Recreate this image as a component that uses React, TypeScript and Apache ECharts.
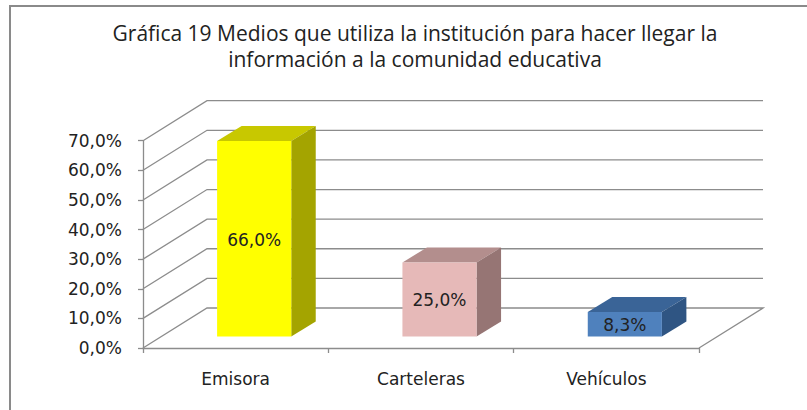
import React, { useEffect, useRef } from "react";
import * as echarts from "echarts";

const titleLines = [
  "Gráfica 19 Medios que utiliza la institución para hacer llegar la",
  "información a la comunidad educativa",
];
const categories = ["Emisora", "Carteleras", "Vehículos"];
const values = [66.0, 25.0, 8.3];
const yTicks = [0, 10, 20, 30, 40, 50, 60, 70];

const frontColors = ["#FFFF00", "#E6B9B8", "#4F81BD"];
const topColors = ["#C8C800", "#B38E8D", "#3A6497"];
const sideColors = ["#A4A400", "#967574", "#2F5583"];

// perspective offsets (styling)
const WALL_DX = 64;
const WALL_DY = -40;
const BAR_FX = 18.5;
const BAR_FY = -11.5;
const BAR_SX = 24.5;
const BAR_SY = -15;
const GRID_COLOR = "#8c8c8c";
const TEXT_COLOR = "#222222";
const LABEL_FONT = "DejaVu Sans";

const fmt = (v: number) => v.toFixed(1).replace(".", ",") + "%";

export default function App() {
  const ref = useRef<HTMLDivElement>(null);
  useEffect(() => {
    if (!ref.current) return;
    const chart = echarts.init(ref.current, undefined, { renderer: "svg" });
    const option: any = {
      animation: false,
      backgroundColor: "#ffffff",
      title: {
        text: titleLines.join("\n"),
        left: 415,
        top: 20,
        padding: 0,
        textAlign: "center",
        textStyle: {
          fontFamily: "Open Sans",
          fontSize: 21,
          fontWeight: "normal",
          color: TEXT_COLOR,
          lineHeight: 26,
        },
      },
      graphic: [
        {
          type: "rect",
          shape: { x: 10, y: 6, width: 900, height: 500 },
          style: { fill: "none", stroke: "#8a8a8a", lineWidth: 2 },
          silent: true,
        },
      ],
      grid: { left: 143, right: 108, top: 140.7, bottom: 62 },
      xAxis: {
        type: "category",
        data: categories,
        boundaryGap: true,
        axisLine: { show: true, lineStyle: { color: GRID_COLOR, width: 1.3 } },
        axisTick: { show: true, length: 5, lineStyle: { color: GRID_COLOR, width: 1.3 } },
        axisLabel: {
          margin: 22,
          fontSize: 17,
          fontFamily: LABEL_FONT,
          color: TEXT_COLOR,
        },
        splitLine: { show: false },
      },
      yAxis: {
        type: "value",
        min: 0,
        max: 70,
        interval: 10,
        axisLine: { show: true, lineStyle: { color: GRID_COLOR, width: 1.3 } },
        axisTick: { show: true, length: 5, lineStyle: { color: GRID_COLOR, width: 1.3 } },
        axisLabel: {
          margin: 21,
          fontSize: 17,
          fontFamily: LABEL_FONT,
          color: TEXT_COLOR,
          formatter: (v: number) => fmt(v),
        },
        splitLine: { show: false },
      },
      series: [
        {
          type: "custom",
          silent: true,
          z: 1,
          data: yTicks.map((v) => [0, v]),
          renderItem: (params: any, api: any) => {
            const cs = params.coordSys;
            const v = api.value(1);
            const y = api.coord([0, v])[1];
            const x0 = cs.x;
            const x1 = cs.x + cs.width;
            const pts: number[][] = [
              [x0, y],
              [x0 + WALL_DX, y + WALL_DY],
              [x1 + WALL_DX, y + WALL_DY],
            ];
            if (v === 0) pts.push([x1, y]);
            return {
              type: "polyline",
              shape: { points: pts },
              style: { stroke: GRID_COLOR, lineWidth: 1.3, fill: null },
            };
          },
        },
        {
          type: "custom",
          z: 3,
          data: values.map((v, i) => [i, v]),
          renderItem: (params: any, api: any) => {
            const i = params.dataIndex;
            const xi = api.value(0);
            const v = api.value(1);
            const cx = api.coord([xi, 0])[0];
            const bw = api.size([1, 0])[0] * 0.4;
            const T = api.coord([xi, v])[1] + BAR_FY;
            const B = api.coord([xi, 0])[1] + BAR_FY;
            const L = cx - bw / 2 + BAR_FX;
            const R = L + bw;
            return {
              type: "group",
              children: [
                {
                  type: "polygon",
                  shape: {
                    points: [
                      [L, T],
                      [L + BAR_SX, T + BAR_SY],
                      [R + BAR_SX, T + BAR_SY],
                      [R, T],
                    ],
                  },
                  style: { fill: topColors[i] },
                },
                {
                  type: "polygon",
                  shape: {
                    points: [
                      [R, T],
                      [R + BAR_SX, T + BAR_SY],
                      [R + BAR_SX, B + BAR_SY],
                      [R, B],
                    ],
                  },
                  style: { fill: sideColors[i] },
                },
                {
                  type: "rect",
                  shape: { x: L, y: T, width: bw, height: B - T },
                  style: { fill: frontColors[i] },
                },
                {
                  type: "text",
                  style: {
                    text: fmt(v),
                    x: (L + R) / 2,
                    y: (T + B) / 2 + 1,
                    align: "center",
                    verticalAlign: "middle",
                    fontSize: 17,
                    fontFamily: LABEL_FONT,
                    fill: TEXT_COLOR,
                  },
                },
              ],
            };
          },
        },
      ],
    };
    chart.setOption(option);
    return () => chart.dispose();
  }, []);
  return (
    <div
      ref={ref}
      style={{ position: "absolute", left: 0, top: 0, width: 807, height: 410 }}
    />
  );
}
